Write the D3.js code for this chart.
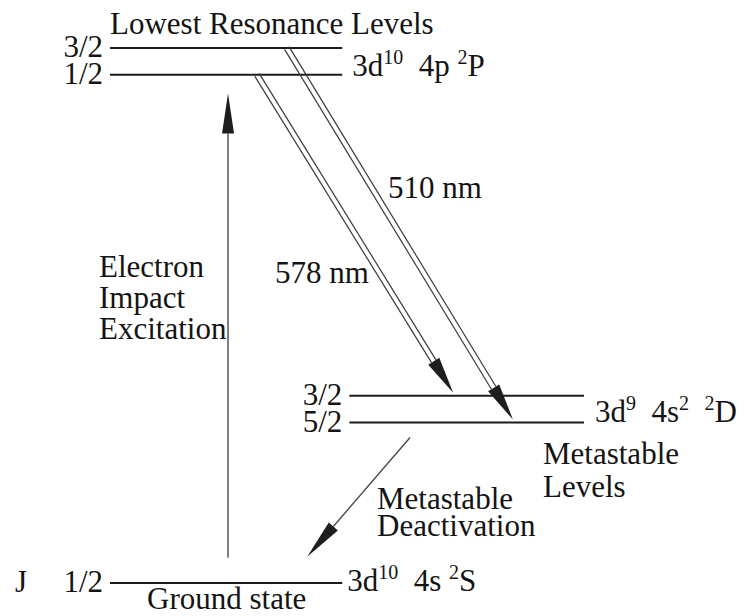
<!DOCTYPE html>
<html>
<head>
<meta charset="utf-8">
<script src="https://cdn.jsdelivr.net/npm/d3@7"></script>
<style>
  html, body { margin: 0; padding: 0; background: #fff; }
  svg { display: block; }
  text { font-family: "Liberation Serif", "Times New Roman", serif; fill: #141414; }
</style>
</head>
<body>
<svg id="chart" width="746" height="616"></svg>
<script>
// Copper atom energy levels (schematic heights, not to scale)
const levelIds     = ["ground", "D52", "D32", "P12", "P32"];
const levelJ       = ["1/2", "5/2", "3/2", "1/2", "3/2"];
const levelHeight  = [0, 3.0, 3.5, 9.5, 10.0];
const levelColumn  = [0, 1, 1, 0, 0];

// Horizontal extent of each column of levels (diagram units)
const columnStart  = [0, 5.05];
const columnEnd    = [4.9, 10];

// Laser transitions (double-line arrows)
const laserLabels  = ["578 nm", "510 nm"];
const laserFrom    = [3, 4];
const laserTo      = [2, 1];
const laserX0      = [3.10, 3.73];
const laserX1      = [7.24, 8.50];

// Single-line processes: [x0, h0, x1, h1]
const excitation   = [2.49, 0.47, 2.49, 9.15];
const deactivation = [6.33, 2.72, 4.16, 0.49];

// Term symbols: [text, isSuperscript]
const termP = [["3d", 0], ["10", 1], ["\u00a0\u00a04p\u00a0", 0], ["2", 1], ["P", 0]];
const termD = [["3d", 0], ["9", 1], ["\u00a0\u00a04s", 0], ["2", 1], ["\u00a0\u00a0", 0], ["2", 1], ["D", 0]];
const termS = [["3d", 0], ["10", 1], ["\u00a0\u00a04s\u00a0", 0], ["2", 1], ["S", 0]];

const svg = d3.select("#chart");
const x = d3.scaleLinear().domain([0, 10]).range([110, 584]);
const y = d3.scaleLinear().domain([0, 10]).range([583, 48]);

const FS = 31, SUP = 20;

// Energy level lines
const levels = levelIds.map((id, i) => ({
  id, J: levelJ[i], h: levelHeight[i], col: levelColumn[i]
}));

svg.append("g").selectAll("line").data(levels).join("line")
  .attr("x1", d => x(columnStart[d.col]))
  .attr("x2", d => x(columnEnd[d.col]))
  .attr("y1", d => y(d.h))
  .attr("y2", d => y(d.h))
  .attr("stroke", "#1c1c1c")
  .attr("stroke-width", 2);

// J labels to the left of each level
svg.append("g").selectAll("text").data(levels).join("text")
  .attr("x", d => x(columnStart[d.col]) - 7)
  .attr("y", d => y(d.h) + 9)
  .attr("text-anchor", "end")
  .attr("font-size", FS)
  .text(d => d.J);

svg.append("text").attr("x", 15).attr("y", y(0) + 9)
  .attr("font-size", FS).text("J");

// Term symbols
function term(parts, tx, ty) {
  const t = svg.append("text").attr("x", tx).attr("y", ty).attr("font-size", FS);
  let raised = false;
  parts.forEach(([s, sup]) => {
    const sp = t.append("tspan").text(s);
    if (sup && !raised) { sp.attr("dy", -12).attr("font-size", SUP); raised = true; }
    else if (sup) { sp.attr("font-size", SUP); }
    else if (raised) { sp.attr("dy", 12); raised = false; }
  });
}
term(termP, x(columnEnd[0]) + 10, y(levelHeight[3]) + 1);
term(termD, x(columnEnd[1]) + 11, y(levelHeight[1]) - 1);
term(termS, x(columnEnd[0]) + 5, y(levelHeight[0]) + 8);

// Captions
function caption(lines, tx, ty, lh) {
  const t = svg.append("text").attr("font-size", FS);
  lines.forEach((s, i) => t.append("tspan").attr("x", tx).attr("y", ty + i * lh).text(s));
}
caption(["Lowest Resonance Levels"], 110, 34, 0);
caption(["Electron", "Impact", "Excitation"], 99, 277, 31);
caption(["Metastable", "Levels"], 543, 464, 33);
caption(["Metastable", "Deactivation"], 377, 509, 27);
caption(["Ground state"], 147, 609, 0);

// Arrowhead helper
function head(tip, u, len, half) {
  const b = [tip[0] - u[0] * len, tip[1] - u[1] * len];
  const n = [-u[1], u[0]];
  return { base: b, pts: [tip, [b[0] + n[0] * half, b[1] + n[1] * half], [b[0] - n[0] * half, b[1] - n[1] * half]] };
}
const line = d3.line();

// Single-line arrows
[excitation, deactivation].forEach(a => {
  const s = [x(a[0]), y(a[1])], e = [x(a[2]), y(a[3])];
  const L = Math.hypot(e[0] - s[0], e[1] - s[1]);
  const u = [(e[0] - s[0]) / L, (e[1] - s[1]) / L];
  const h = head(e, u, 40, 6);
  svg.append("path").attr("d", line([s, h.base]))
    .attr("stroke", "#4a4a4a").attr("stroke-width", 1.4).attr("fill", "none");
  svg.append("path").attr("d", line(h.pts) + "Z").attr("fill", "#1e1e1e");
});

// Double-line laser arrows
laserLabels.forEach((lab, i) => {
  const s = [x(laserX0[i]), y(levelHeight[laserFrom[i]])];
  const e = [x(laserX1[i]), y(levelHeight[laserTo[i]]) - 3];
  const L = Math.hypot(e[0] - s[0], e[1] - s[1]);
  const u = [(e[0] - s[0]) / L, (e[1] - s[1]) / L];
  const n = [-u[1], u[0]];
  const h = head(e, u, 37, 6.5);
  [-2.6, 2.6].forEach(o => {
    svg.append("path")
      .attr("d", line([[s[0] + n[0] * o, s[1] + n[1] * o], [h.base[0] + n[0] * o, h.base[1] + n[1] * o]]))
      .attr("stroke", "#3a3a3a").attr("stroke-width", 1.2).attr("fill", "none");
  });
  svg.append("path").attr("d", line(h.pts) + "Z").attr("fill", "#1e1e1e");
});

svg.append("text").attr("x", 388).attr("y", 198).attr("font-size", FS).text(laserLabels[1]);
svg.append("text").attr("x", 275).attr("y", 283).attr("font-size", FS).text(laserLabels[0]);
</script>
</body>
</html>
